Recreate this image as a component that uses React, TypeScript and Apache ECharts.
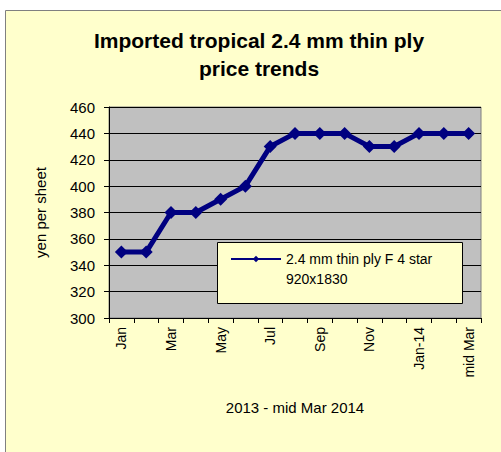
import React, { useEffect, useRef } from "react";
import * as echarts from "echarts";

const categories = ["Jan", "Feb", "Mar", "Apr", "May", "Jun", "Jul", "Aug", "Sep", "Oct", "Nov", "Dec", "Jan-14", "Feb", "mid Mar"];
const prices = [350, 350, 380, 380, 390, 400, 430, 440, 440, 440, 430, 430, 440, 440, 440];
const seriesName = "2.4 mm thin ply F 4 star 920x1830";
const titleText = "Imported tropical 2.4 mm thin ply\nprice trends";
const yAxisTitle = "yen per sheet";
const xAxisTitle = "2013 - mid Mar 2014";

const FONT = 'Arial, "Liberation Sans", sans-serif';
const NAVY = "#000080";

export default function App() {
  const ref = useRef<HTMLDivElement>(null);
  useEffect(() => {
    if (!ref.current) return;
    const chart = echarts.init(ref.current, undefined, { renderer: "svg" });
    chart.setOption({
      animation: false,
      backgroundColor: "#ffffff",
      graphic: [
        {
          type: "rect",
          z: -10,
          silent: true,
          shape: { x: 5.5, y: 10.5, width: 510, height: 460 },
          style: { fill: "#FFFFCC", stroke: "#808080", lineWidth: 1 },
        },
        {
          type: "rect",
          z: 3,
          silent: true,
          shape: { x: 217.5, y: 242.5, width: 245, height: 61 },
          style: { fill: "#FFFFCC", stroke: "#000000", lineWidth: 1 },
        },
      ],
      title: {
        text: titleText,
        left: 254,
        top: 21,
        textAlign: "center",
        textStyle: {
          fontFamily: FONT,
          fontSize: 21,
          fontWeight: "bold",
          color: "#000",
          lineHeight: 28,
        },
      },
      legend: {
        left: 230,
        top: 229,
        padding: 0,
        z: 5,
        itemWidth: 50,
        itemHeight: 8,
        data: [seriesName],
        formatter: () => " \n2.4 mm thin ply F 4 star\n920x1830",
        textStyle: {
          fontFamily: FONT,
          fontSize: 14,
          color: "#000",
          lineHeight: 20,
          align: "left",
        },
      },
      grid: {
        left: 109,
        right: 20,
        top: 107,
        bottom: 134,
        show: true,
        backgroundColor: "#C0C0C0",
        borderColor: "#808080",
        borderWidth: 1,
      },
      xAxis: {
        type: "category",
        data: categories,
        boundaryGap: true,
        name: xAxisTitle,
        nameLocation: "middle",
        nameGap: 82,
        nameTextStyle: { fontFamily: FONT, fontSize: 15, color: "#000" },
        axisLine: { lineStyle: { color: "#000", width: 1 } },
        axisTick: { show: true, interval: 0, length: 5, lineStyle: { color: "#000" } },
        axisLabel: {
          interval: 1,
          rotate: 90,
          margin: 9,
          fontFamily: FONT,
          fontSize: 14,
          color: "#000",
        },
      },
      yAxis: {
        type: "value",
        min: 300,
        max: 460,
        interval: 20,
        name: yAxisTitle,
        nameLocation: "middle",
        nameGap: 61,
        nameTextStyle: { fontFamily: FONT, fontSize: 15, color: "#000" },
        axisLine: { show: true, lineStyle: { color: "#000", width: 1 } },
        axisTick: { show: true, length: 5, lineStyle: { color: "#000" } },
        axisLabel: { margin: 14, fontFamily: FONT, fontSize: 15, color: "#000" },
        splitLine: { show: true, lineStyle: { color: "#000", width: 1 } },
      },
      series: [
        {
          name: seriesName,
          type: "line",
          data: prices,
          symbol: "diamond",
          symbolSize: 13,
          showAllSymbol: true,
          lineStyle: { color: NAVY, width: 5 },
          itemStyle: { color: NAVY },
          z: 2,
        },
      ],
    });
    return () => chart.dispose();
  }, []);
  return (
    <div
      ref={ref}
      style={{ position: "fixed", left: 0, top: 0, width: 501, height: 452 }}
    />
  );
}
